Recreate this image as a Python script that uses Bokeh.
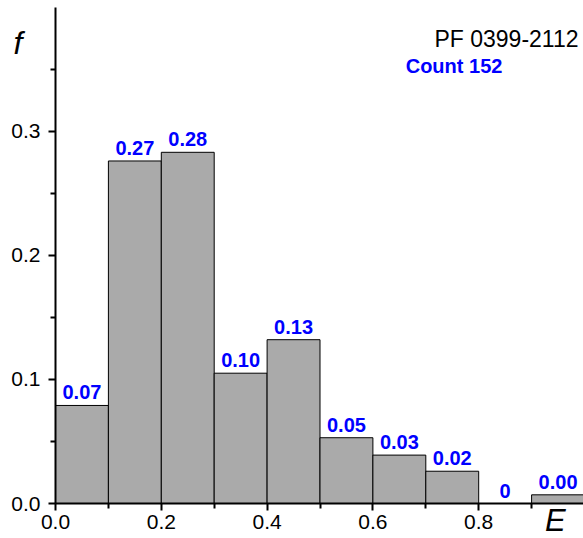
from bokeh.plotting import figure
from bokeh.models import FixedTicker, Label, ColumnDataSource, Range1d, PrintfTickFormatter
from bokeh.core.properties import value
from bokeh.embed import file_html
from bokeh.resources import INLINE

bin_starts = [0.0, 0.1, 0.2, 0.3, 0.4, 0.5, 0.6, 0.7, 0.8, 0.9]
bin_width = 0.1
freq = [0.079, 0.276, 0.283, 0.105, 0.132, 0.053, 0.039, 0.026, 0.0, 0.007]
bar_labels = ["0.07", "0.27", "0.28", "0.10", "0.13", "0.05", "0.03", "0.02", "0", "0.00"]
x_major = [0.0, 0.2, 0.4, 0.6, 0.8]
x_minor = [0.1, 0.3, 0.5, 0.7, 0.9]
y_major = [0.0, 0.1, 0.2, 0.3]
y_minor = [0.05, 0.15, 0.25, 0.35]
title_id = "PF 0399-2112"
count_text = "Count 152"
x_name = "E"
y_name = "f"

FONT = "Liberation Sans"

src = ColumnDataSource(dict(
    left=bin_starts,
    right=[b + bin_width for b in bin_starts],
    top=freq,
    center=[b + bin_width / 2 for b in bin_starts],
    label=bar_labels,
))

W, H = 583, 538
X0, Y0 = 55, 503          # pixel position of data origin
XS, YS = 529.0, 1241.0    # pixels per data unit

p = figure(frame_width=W, frame_height=H, output_backend="svg", toolbar_location=None,
           x_range=Range1d(-X0 / XS, (W - X0) / XS),
           y_range=Range1d(-(H - Y0) / YS, Y0 / YS),
           min_border=0, min_border_left=0, min_border_right=0,
           min_border_top=0, min_border_bottom=0)
p.outline_line_color = None
p.xgrid.visible = False
p.ygrid.visible = False
p.background_fill_color = "white"
p.border_fill_color = "white"

p.quad(left="left", right="right", top="top", bottom=0, source=src,
       fill_color="#AAAAAA", line_color="black", line_width=1)

p.text(x="center", y="top", text="label", source=src,
       text_align="center", text_baseline="alphabetic", y_offset=-13,
       text_font=value(FONT), text_font_size="20px", text_font_style="bold",
       text_color="#0000FF")

for ax in (p.xaxis[0], p.yaxis[0]):
    ax.fixed_location = 0
    ax.axis_line_width = 2
    ax.axis_line_color = "black"
    ax.major_tick_line_width = 2
    ax.minor_tick_line_width = 2
    ax.major_tick_out = 7
    ax.major_tick_in = 0
    ax.minor_tick_out = 5
    ax.minor_tick_in = 0
    ax.major_label_text_font = FONT
    ax.major_label_text_font_size = "21px"
    ax.major_label_text_color = "black"
    ax.formatter = PrintfTickFormatter(format="%.1f")

p.xaxis.ticker = FixedTicker(ticks=x_major, minor_ticks=x_minor)
p.yaxis.ticker = FixedTicker(ticks=y_major, minor_ticks=y_minor)
p.xaxis.bounds = (0, (W - X0) / XS)
p.yaxis.bounds = (0, 0.4)
p.xaxis.major_label_standoff = 4
p.yaxis.major_label_standoff = 8

p.add_layout(Label(x=0.9887, y=0.3638, text=title_id, text_align="right",
                   text_font=FONT, text_font_size="23px", text_color="black"))
p.add_layout(Label(x=0.662, y=0.3434, text=count_text, text_align="left",
                   text_font=FONT, text_font_size="20px", text_font_style="bold",
                   text_color="#0000FF"))
p.add_layout(Label(x=-0.0794, y=0.3562, text=y_name, text_align="left",
                   text_font=FONT, text_font_size="32px",
                   text_font_style="italic", text_color="black"))
p.add_layout(Label(x=0.945, y=-0.0275, text=x_name, text_align="center",
                   text_font=FONT, text_font_size="31px",
                   text_font_style="italic", text_color="black"))

open("out.html", "w").write(file_html(p, INLINE))
